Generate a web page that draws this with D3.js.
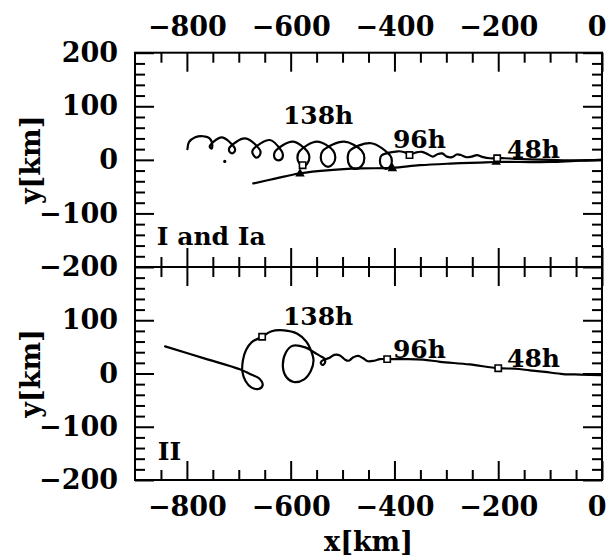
<!DOCTYPE html>
<html>
<head>
<meta charset="utf-8">
<script src="https://cdn.jsdelivr.net/npm/d3@7"></script>
<style>
  html, body { margin: 0; padding: 0; background: #fff; }
  svg { display: block; }
  text { font-family: "DejaVu Serif", serif; font-weight: bold; fill: #000; }
</style>
</head>
<body>
<svg id="chart" width="607" height="559"></svg>
<script>
// ---------------- data (x, y in km) ----------------

// Track I, listed from the west end to the origin; the looping part shows the trochoidal drift
const trackI = [
  [-799, 20], [-796, 33], [-784, 42], [-769, 44], [-756, 40],
  [-751, 26], [-753, 21], [-756, 25],
  [-733, 42],
  [-709, 24], [-707, 19], [-709, 14], [-713, 12], [-717, 14], [-719, 19], [-717, 24],
  [-688, 40],
  [-661, 21], [-658, 15], [-660, 8], [-666, 4], [-671, 8], [-674, 15], [-671, 21],
  [-640, 37],
  [-618, 17], [-615, 10], [-617, 2], [-623, -1], [-630, 2], [-632, 10], [-629, 17],
  [-596, 34],
  [-568, 16], [-564, 4], [-568, -7], [-575, -12], [-583, -7], [-587, 4], [-583, 16],
  [-549, 34],
  [-518, 17], [-514, 4], [-518, -7], [-528, -13], [-538, -7], [-542, 4], [-538, 17],
  [-497, 34],
  [-463, 17], [-458, 3], [-463, -11], [-474, -17], [-486, -11], [-490, 3], [-486, 17],
  [-445, 31],
  [-408, 8], [-405, -2], [-408, -12], [-416, -17], [-425, -12], [-428, -2], [-425, 8],
  [-393, 16], [-380, 14], [-370, 10], [-358, 14], [-347, 15], [-335, 10], [-326, 6],
  [-316, 11], [-308, 12], [-299, 6], [-289, 5], [-280, 10], [-272, 9], [-262, 5],
  [-251, 6], [-241, 9], [-229, 5], [-216, 3], [-202, 3], [-187, 3], [-168, 2],
  [-139, 1], [-100, 0], [-52, -1], [0, 0]
];

// Track Ia, smooth drift
const trackIa = [
  [-672, -44], [-630, -35], [-582, -25], [-524, -19], [-466, -16], [-404, -15],
  [-351, -10], [-293, -7], [-235, -5], [-204, -4], [-158, -4], [-100, -4],
  [-52, -2], [0, 0]
];

// Track II, listed from the origin westward
const trackII = [
  [0, -3], [-42, -2], [-75, -1], [-110, 3], [-139, 6], [-168, 9], [-200, 10],
  [-255, 17], [-312, 22], [-345, 26], [-380, 27], [-414, 27], [-428, 27],
  [-439, 24], [-451, 23], [-461, 29], [-470, 33], [-480, 30], [-488, 24],
  [-495, 26], [-505, 34], [-516, 35], [-526, 29],
  [-536, 26], [-542, 21], [-539, 16], [-534, 20], [-535, 28], [-545, 34],
  [-555, 40], [-572, 49], [-596, 52], [-609, 40], [-615, 13], [-608, -7],
  [-594, -16], [-574, -11], [-561, 5], [-556, 25], [-562, 46], [-570, 60],
  [-588, 75], [-613, 81], [-638, 79], [-655, 69], [-675, 59], [-686, 44],
  [-692, 25], [-693, 3], [-687, -14], [-676, -26], [-662, -29], [-654, -22],
  [-661, -9], [-676, -2], [-698, 8], [-765, 28], [-842, 51]
];

// Positions at 48h, 96h and 138h
const markersI  = [[-202, 3], [-371, 9], [-577, -10]];
const markersIa = [[-204, -4], [-404, -16], [-582, -26]];
const markersII = [[-200, 10], [-414, 27], [-655, 69]];
const strayPointI = [[-727, -3]];

const hourLabels = ["48h", "96h", "138h"];
const hourLabelXTop = [-183, -403, -615];
const hourLabelYTop = [4, 22, 66];
const hourLabelXBottom = [-183, -403, -615];
const hourLabelYBottom = [13, 29, 91];

const panelNames = ["I and Ia", "II"];
const panelNameX = [-858, -856];
const panelNameY = [-159, -162];

const xTickValues = [-800, -600, -400, -200, 0];
const yTickValuesTop = [-200, -100, 0, 100, 200];
const yTickValuesBottom = [-200, -100, 0, 100];
const xMinorTicks = d3.range(-850, 0, 50).filter(v => v % 200 !== 0);
const yMinorTicks = d3.range(-180, 200, 20).filter(v => v % 100 !== 0);

// ---------------- layout ----------------
const svg = d3.select("#chart");
const W = 607;
const left = 135, right = 602;
const x = d3.scaleLinear().domain([-900, 0]).range([left, right]);
const yTop = d3.scaleLinear().domain([-200, 200]).range([267, 52.7]);
const yBot = d3.scaleLinear().domain([-200, 200]).range([480, 267]);

const MAJOR = 19, MINOR = 10, PAD = 17, FONT = 27;

function styleAxis(g) {
  g.select(".domain").remove();
  g.attr("font-size", FONT).attr("font-family", "DejaVu Serif").attr("font-weight", "bold");
  g.selectAll(".tick line").attr("stroke", "#000").attr("stroke-width", 2);
  // the label at the right frame edge is kept inside the page
  g.selectAll(".tick text").filter(d => d === 0 && g.classed("x-axis"))
    .attr("text-anchor", "end").attr("x", W - 1 - right);
}

function drawTicks(axisFn, scale, pos, majors, minors, withLabels, isX) {
  svg.append("g").attr("transform", pos)
    .call(axisFn(scale).tickValues(minors).tickSize(-MINOR).tickFormat(""))
    .call(styleAxis);
  const major = axisFn(scale).tickValues(majors).tickSize(-MAJOR).tickPadding(PAD);
  if (!withLabels) major.tickFormat("");
  svg.append("g").attr("transform", pos).classed("x-axis", isX).call(major).call(styleAxis);
}

const panels = [
  { y: yTop, yTicks: yTickValuesTop, top: 52.7, bottom: 267, topLabels: true, bottomLabels: false },
  { y: yBot, yTicks: yTickValuesBottom, top: 267, bottom: 480, topLabels: false, bottomLabels: true }
];

panels.forEach(p => {
  drawTicks(d3.axisTop, x, `translate(0,${p.top})`, xTickValues, xMinorTicks, p.topLabels, true);
  drawTicks(d3.axisBottom, x, `translate(0,${p.bottom})`, xTickValues, xMinorTicks, p.bottomLabels, true);
  drawTicks(d3.axisLeft, p.y, `translate(${left},0)`, p.yTicks, yMinorTicks, true, false);
  drawTicks(d3.axisRight, p.y, `translate(${right},0)`, p.yTicks, yMinorTicks, false, false);
  svg.append("rect")
    .attr("x", left).attr("y", p.top)
    .attr("width", right - left).attr("height", p.bottom - p.top)
    .attr("fill", "none").attr("stroke", "#000").attr("stroke-width", 2);
});

// ---------------- tracks ----------------
function drawTrack(data, yScale) {
  const line = d3.line()
    .x(d => x(d[0])).y(d => yScale(d[1]))
    .curve(d3.curveCatmullRom.alpha(0.5));
  svg.append("path").datum(data)
    .attr("d", line)
    .attr("fill", "none").attr("stroke", "#000")
    .attr("stroke-width", 2.2).attr("stroke-linejoin", "round").attr("stroke-linecap", "round");
}
drawTrack(trackIa, yTop);
drawTrack(trackI, yTop);
drawTrack(trackII, yBot);

function drawMarkers(data, yScale, type, size, fill) {
  svg.append("g").selectAll("path").data(data).join("path")
    .attr("transform", d => `translate(${x(d[0])},${yScale(d[1])})`)
    .attr("d", d3.symbol(type, size))
    .attr("fill", fill).attr("stroke", "#000").attr("stroke-width", 1.6);
}
drawMarkers(markersIa, yTop, d3.symbolTriangle, 20, "#000");
drawMarkers(markersI, yTop, d3.symbolSquare, 40, "#fff");
drawMarkers(markersII, yBot, d3.symbolSquare, 40, "#fff");

svg.append("g").selectAll("circle").data(strayPointI).join("circle")
  .attr("cx", d => x(d[0])).attr("cy", d => yTop(d[1])).attr("r", 1.6).attr("fill", "#000");

// ---------------- annotations ----------------
hourLabels.forEach((t, i) => {
  svg.append("text").attr("x", x(hourLabelXTop[i])).attr("y", yTop(hourLabelYTop[i]))
    .attr("font-size", 25).text(t);
  svg.append("text").attr("x", x(hourLabelXBottom[i])).attr("y", yBot(hourLabelYBottom[i]))
    .attr("font-size", 25).text(t);
});
svg.append("text").attr("x", x(panelNameX[0])).attr("y", yTop(panelNameY[0]))
  .attr("font-size", 25).text(panelNames[0]);
svg.append("text").attr("x", x(panelNameX[1])).attr("y", yBot(panelNameY[1]))
  .attr("font-size", 25).text(panelNames[1]);

// axis titles
svg.append("text").attr("x", (left + right) / 2).attr("y", 551)
  .attr("text-anchor", "middle").attr("font-size", FONT).text("x[km]");
[yTop, yBot].forEach(s => {
  svg.append("text")
    .attr("transform", `translate(40,${s(0)}) rotate(-90)`)
    .attr("text-anchor", "middle").attr("font-size", FONT).text("y[km]");
});
</script>
</body>
</html>
